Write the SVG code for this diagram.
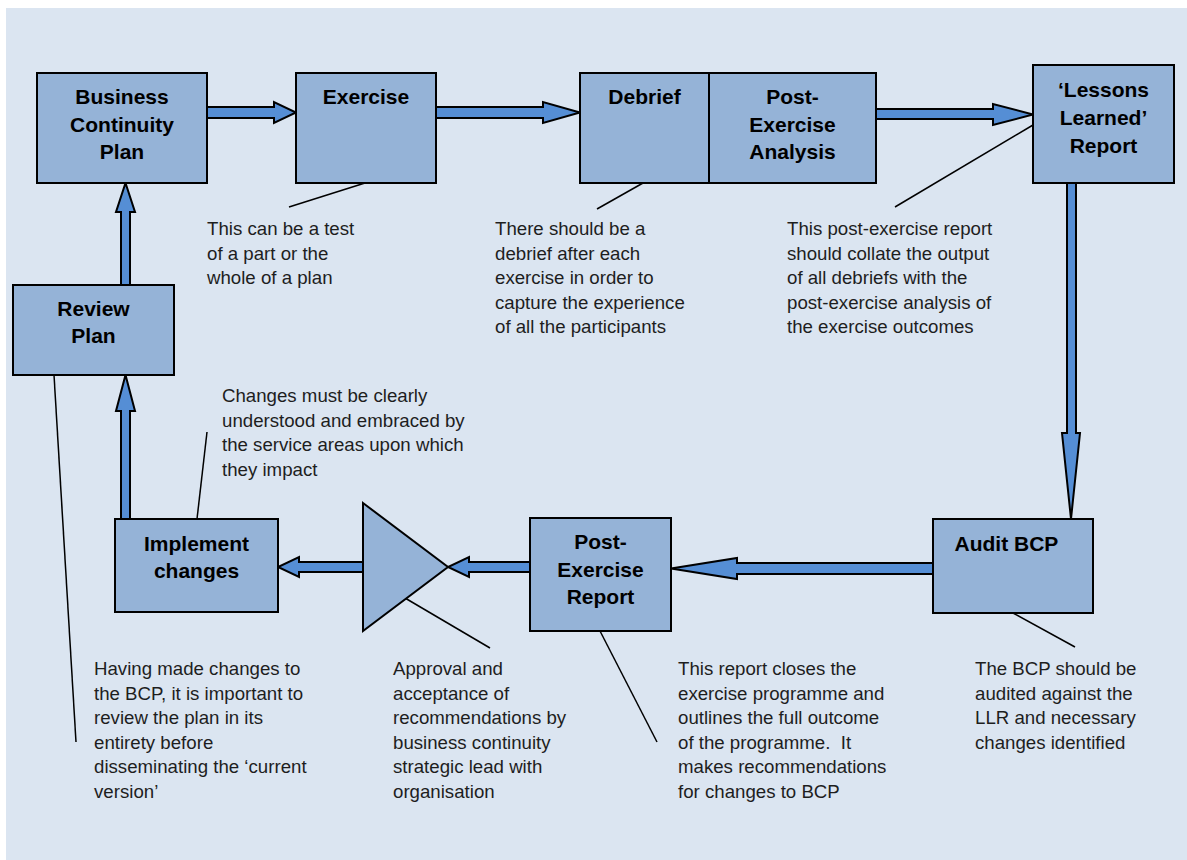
<svg xmlns="http://www.w3.org/2000/svg" width="1187" height="860" viewBox="0 0 1187 860">
<style>
.box{fill:#95b3d7;stroke:#000;stroke-width:2}
.arr{fill:#558ed5;stroke:#000;stroke-width:2;stroke-linejoin:miter}
.t{font-family:"Liberation Sans",Arial,sans-serif;font-weight:bold;font-size:21px;fill:#000;text-anchor:middle}
.n{font-family:"Liberation Sans",Arial,sans-serif;font-size:18.67px;fill:#1e1e1e}
.c{stroke:#000;stroke-width:1.5;fill:none}
</style>
<rect x="0" y="0" width="1187" height="860" fill="#ffffff"/>
<rect x="6" y="8" width="1181" height="852" fill="#dbe5f1"/>

<g id="connectors">
  <polygon class="arr" points="207,107 274,107 274,102 296,112.5 274,123 274,118 207,118"/>
  <polygon class="arr" points="436,107 543,107 543,102 580,112.5 543,123 543,118 436,118"/>
  <polygon class="arr" points="876,109 993,109 993,104 1033,114.5 993,125 993,119 876,119"/>
  <polygon class="arr" points="1067,183 1076,183 1076,433 1080,433 1071,519 1062,433 1067,433"/>
  <polygon class="arr" points="933,563 737,563 737,558 671,568.5 737,579 737,574 933,574"/>
  <polygon class="arr" points="530,562 469,562 469,557 448,567 469,577 469,572 530,572"/>
  <polygon class="arr" points="363,562 299,562 299,557 278,567 299,577 299,572 363,572"/>
  <polygon class="arr" points="121,519 121,411 116,411 125.5,375 135,411 130,411 130,519"/>
  <polygon class="arr" points="121,285 121,212 116,212 125.5,183 135,212 130,212 130,285"/>
  <line class="c" x1="365" y1="183" x2="289" y2="207"/>
  <line class="c" x1="643" y1="183" x2="597" y2="209"/>
  <line class="c" x1="1033" y1="125" x2="895" y2="207"/>
  <line class="c" x1="197" y1="519" x2="207" y2="432"/>
  <line class="c" x1="54" y1="375" x2="76" y2="742"/>
  <line class="c" x1="405" y1="598" x2="490" y2="648"/>
  <line class="c" x1="600" y1="631" x2="657" y2="742"/>
  <line class="c" x1="1013" y1="613" x2="1075" y2="647"/>
</g>

<g id="bcp">
  <rect class="box" x="37" y="73" width="170" height="110"/>
  <text class="t" x="122" y="104">Business</text>
  <text class="t" x="122" y="131.7">Continuity</text>
  <text class="t" x="122" y="159.3">Plan</text>
</g>
<g id="exercise">
  <rect class="box" x="296" y="73" width="140" height="110"/>
  <text class="t" x="366" y="104">Exercise</text>
</g>
<g id="debrief">
  <rect class="box" x="580" y="73" width="129" height="110"/>
  <text class="t" x="644.5" y="103.5">Debrief</text>
</g>
<g id="post-exercise-analysis">
  <rect class="box" x="709" y="73" width="167" height="110"/>
  <text class="t" x="792.5" y="104">Post-</text>
  <text class="t" x="792.5" y="131.7">Exercise</text>
  <text class="t" x="792.5" y="159.3">Analysis</text>
</g>
<g id="lessons-learned">
  <rect class="box" x="1033" y="65" width="141" height="118"/>
  <text class="t" x="1103.5" y="96.7">‘Lessons</text>
  <text class="t" x="1103.5" y="125">Learned’</text>
  <text class="t" x="1103.5" y="152.7">Report</text>
</g>
<g id="audit-bcp">
  <rect class="box" x="933" y="519" width="160" height="94"/>
  <text class="t" x="954.5" y="550.7" style="text-anchor:start">Audit BCP</text>
</g>
<g id="post-exercise-report">
  <rect class="box" x="530" y="518" width="141" height="113"/>
  <text class="t" x="600.5" y="549">Post-</text>
  <text class="t" x="600.5" y="576.7">Exercise</text>
  <text class="t" x="600.5" y="604.3">Report</text>
</g>
<g id="approval">
  <polygon class="box" points="363,503 448,567 363,631"/>
</g>
<g id="implement-changes">
  <rect class="box" x="115" y="519" width="163" height="93"/>
  <text class="t" x="196.5" y="551">Implement</text>
  <text class="t" x="196.5" y="577.5">changes</text>
</g>
<g id="review-plan">
  <rect class="box" x="13" y="285" width="161" height="90"/>
  <text class="t" x="93.5" y="315.7">Review</text>
  <text class="t" x="93.5" y="343.3">Plan</text>
</g>

<g id="notes">
  <text class="n" x="207" y="235">This can be a test</text>
  <text class="n" x="207" y="259.5">of a part or the</text>
  <text class="n" x="207" y="284">whole of a plan</text>

  <text class="n" x="495" y="235">There should be a</text>
  <text class="n" x="495" y="259.5">debrief after each</text>
  <text class="n" x="495" y="284">exercise in order to</text>
  <text class="n" x="495" y="308.5">capture the experience</text>
  <text class="n" x="495" y="333">of all the participants</text>

  <text class="n" x="787" y="235">This post-exercise report</text>
  <text class="n" x="787" y="259.5">should collate the output</text>
  <text class="n" x="787" y="284">of all debriefs with the</text>
  <text class="n" x="787" y="308.5">post-exercise analysis of</text>
  <text class="n" x="787" y="333">the exercise outcomes</text>

  <text class="n" x="222" y="402">Changes must be clearly</text>
  <text class="n" x="222" y="426.7">understood and embraced by</text>
  <text class="n" x="222" y="451.4">the service areas upon which</text>
  <text class="n" x="222" y="476.1">they impact</text>

  <text class="n" x="94" y="675">Having made changes to</text>
  <text class="n" x="94" y="699.5">the BCP, it is important to</text>
  <text class="n" x="94" y="724">review the plan in its</text>
  <text class="n" x="94" y="748.5">entirety before</text>
  <text class="n" x="94" y="773">disseminating the ‘current</text>
  <text class="n" x="94" y="797.5">version’</text>

  <text class="n" x="393" y="675">Approval and</text>
  <text class="n" x="393" y="699.5">acceptance of</text>
  <text class="n" x="393" y="724">recommendations by</text>
  <text class="n" x="393" y="748.5">business continuity</text>
  <text class="n" x="393" y="773">strategic lead with</text>
  <text class="n" x="393" y="797.5">organisation</text>

  <text class="n" x="678" y="675">This report closes the</text>
  <text class="n" x="678" y="699.5">exercise programme and</text>
  <text class="n" x="678" y="724">outlines the full outcome</text>
  <text class="n" x="678" y="748.5" xml:space="preserve">of the programme.  It</text>
  <text class="n" x="678" y="773">makes recommendations</text>
  <text class="n" x="678" y="797.5">for changes to BCP</text>

  <text class="n" x="975" y="675">The BCP should be</text>
  <text class="n" x="975" y="699.5">audited against the</text>
  <text class="n" x="975" y="724">LLR and necessary</text>
  <text class="n" x="975" y="748.5">changes identified</text>
</g>
</svg>
